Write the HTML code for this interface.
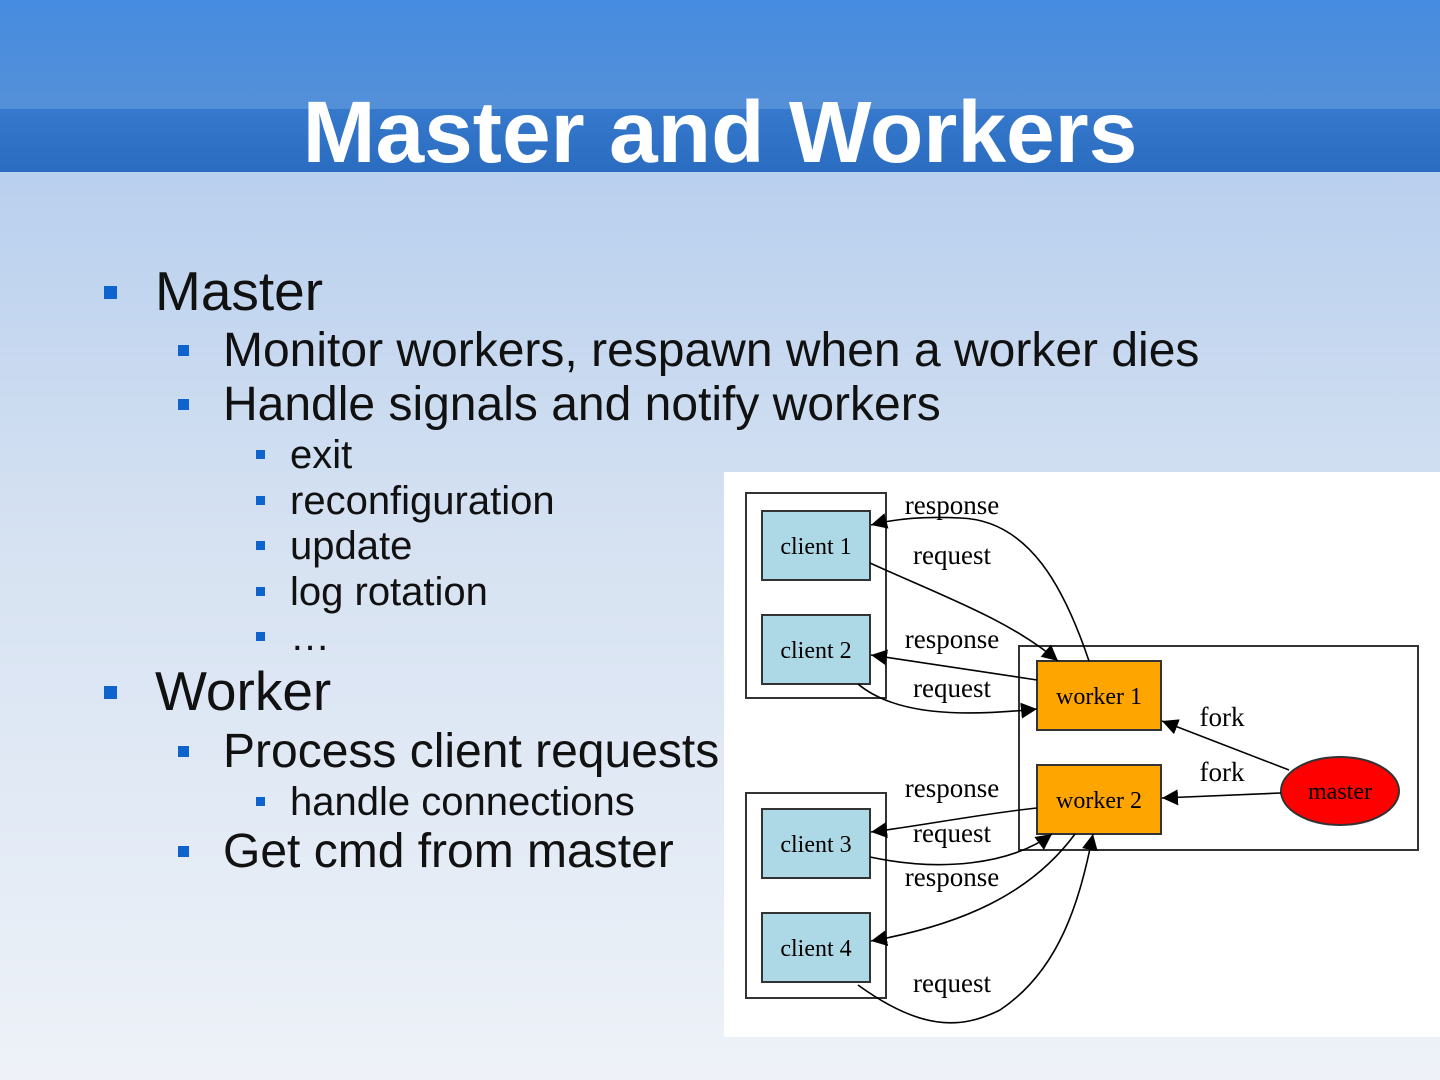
<!DOCTYPE html>
<html><head><meta charset="utf-8"><style>
html,body{margin:0;padding:0;width:1440px;height:1080px;overflow:hidden}
</style></head><body>
<svg width="1440" height="1080" viewBox="0 0 1440 1080" xmlns="http://www.w3.org/2000/svg">
<defs>
<linearGradient id="bg" x1="0" y1="0" x2="0" y2="1">
<stop offset="0" stop-color="#abc7ec"/><stop offset="0.5" stop-color="#d6e2f2"/><stop offset="1" stop-color="#eef2f8"/>
</linearGradient>
<linearGradient id="h1" x1="0" y1="0" x2="0" y2="1">
<stop offset="0" stop-color="#468ce0"/><stop offset="1" stop-color="#5490d8"/>
</linearGradient>
<linearGradient id="h2" x1="0" y1="0" x2="0" y2="1">
<stop offset="0" stop-color="#3679cc"/><stop offset="1" stop-color="#2a6cc0"/>
</linearGradient>
<marker id="a" viewBox="0 0 10 10" refX="10" refY="5" markerWidth="16" markerHeight="16" markerUnits="userSpaceOnUse" orient="auto">
<path d="M0,0 L10,5 L0,10 z" fill="#000"/></marker>
</defs>
<rect width="1440" height="1080" fill="url(#bg)"/>
<rect width="1440" height="109" fill="url(#h1)"/>
<rect y="109" width="1440" height="63" fill="url(#h2)"/>
<text x="720" y="162" text-anchor="middle" font-family="Liberation Sans, sans-serif" font-weight="bold" font-size="87.5" fill="#fff">Master and Workers</text>

<g font-family="Liberation Sans, sans-serif" fill="#111">
<rect x="104" y="286" width="13" height="13" fill="#0f63cc"/>
<text x="155" y="310" font-size="55">Master</text>
<rect x="178" y="345" width="11" height="11" fill="#0f63cc"/>
<text x="223" y="366" font-size="48">Monitor workers, respawn when a worker dies</text>
<rect x="178" y="399" width="11" height="11" fill="#0f63cc"/>
<text x="223" y="420" font-size="48">Handle signals and notify workers</text>
<rect x="256" y="450" width="9" height="9" fill="#0f63cc"/>
<text x="290" y="468" font-size="40">exit</text>
<rect x="256" y="496" width="9" height="9" fill="#0f63cc"/>
<text x="290" y="514" font-size="40">reconfiguration</text>
<rect x="256" y="541" width="9" height="9" fill="#0f63cc"/>
<text x="290" y="559" font-size="40">update</text>
<rect x="256" y="587" width="9" height="9" fill="#0f63cc"/>
<text x="290" y="605" font-size="40">log rotation</text>
<rect x="256" y="632" width="9" height="9" fill="#0f63cc"/>
<text x="290" y="650" font-size="40">…</text>
<rect x="104" y="686" width="13" height="13" fill="#0f63cc"/>
<text x="155" y="710" font-size="55">Worker</text>
<rect x="178" y="746" width="11" height="11" fill="#0f63cc"/>
<text x="223" y="767" font-size="48">Process client requests</text>
<rect x="256" y="797" width="9" height="9" fill="#0f63cc"/>
<text x="290" y="815" font-size="40">handle connections</text>
<rect x="178" y="846" width="11" height="11" fill="#0f63cc"/>
<text x="223" y="867" font-size="48">Get cmd from master</text>
</g>

<rect x="724" y="472" width="716" height="565" fill="#fff"/>
<g fill="none" stroke="#333" stroke-width="2">
<rect x="746" y="493" width="140" height="205"/>
<rect x="746" y="793" width="140" height="205"/>
<rect x="1019" y="646" width="399" height="204"/>
</g>
<g stroke="#333" stroke-width="2">
<rect x="762" y="511" width="108" height="69" fill="#add8e6"/>
<rect x="762" y="615" width="108" height="69" fill="#add8e6"/>
<rect x="762" y="809" width="108" height="69" fill="#add8e6"/>
<rect x="762" y="913" width="108" height="69" fill="#add8e6"/>
<rect x="1037" y="661" width="124" height="69" fill="#ffa500"/>
<rect x="1037" y="765" width="124" height="69" fill="#ffa500"/>
<ellipse cx="1340" cy="791" rx="59" ry="34" fill="#ff0000"/>
</g>
<g fill="none" stroke="#000" stroke-width="1.6" marker-end="url(#a)">
<path d="M1089,661 C1065,590 1030,520 960,518 C920,516 890,520 871,525"/>
<path d="M870,563 C940,595 1010,620 1058,661"/>
<path d="M1037,680 L871,655"/>
<path d="M858,684 C895,715 960,717 1037,709"/>
<path d="M1037,808 C980,814 920,826 871,832"/>
<path d="M870,857 C940,872 1010,865 1052,834"/>
<path d="M1075,834 C1030,895 960,925 871,941"/>
<path d="M858,985 C920,1030 960,1030 1000,1010 C1060,970 1080,900 1093,834"/>
<path d="M1289,770 L1162,721"/>
<path d="M1281,793 L1162,798"/>
</g>
<g font-family="Liberation Serif, serif" font-size="24" fill="#000" text-anchor="middle">
<text x="816" y="554">client 1</text>
<text x="816" y="658">client 2</text>
<text x="816" y="852">client 3</text>
<text x="816" y="956">client 4</text>
<text x="1099" y="704">worker 1</text>
<text x="1099" y="808">worker 2</text>
<text x="1340" y="799">master</text>
</g>
<g font-family="Liberation Serif, serif" font-size="27" fill="#000" text-anchor="middle">
<text x="952" y="514">response</text>
<text x="952" y="564">request</text>
<text x="952" y="648">response</text>
<text x="952" y="697">request</text>
<text x="1222" y="726">fork</text>
<text x="1222" y="781">fork</text>
<text x="952" y="797">response</text>
<text x="952" y="842">request</text>
<text x="952" y="886">response</text>
<text x="952" y="992">request</text>
</g>
</svg>
</body></html>
